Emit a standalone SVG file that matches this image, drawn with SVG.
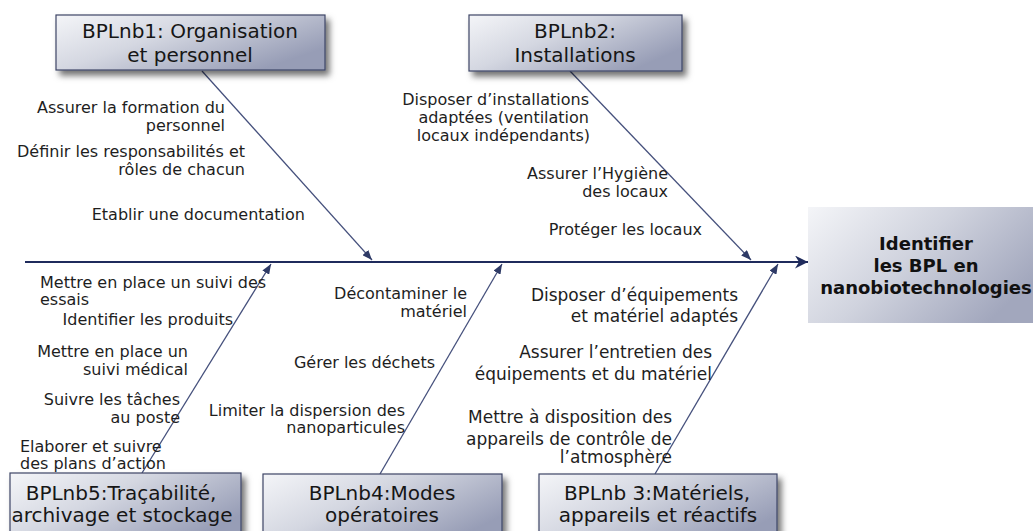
<svg xmlns="http://www.w3.org/2000/svg" width="1033" height="531" viewBox="0 0 1033 531">
<style>
.lbl{font-family:"DejaVu Sans",Verdana,sans-serif;font-size:16px;fill:#1e1e1e}
.big{font-size:17px}
.end{text-anchor:end}
.ttl{font-family:"DejaVu Sans",Verdana,sans-serif;font-size:20px;fill:#161616;text-anchor:middle}
.eff{font-family:"DejaVu Sans",Verdana,sans-serif;font-size:18px;font-weight:bold;fill:#111;text-anchor:middle}
.box{fill:url(#gb);stroke:#3e4566;stroke-width:1.2;filter:url(#sh)}
.bone{stroke:#45507c;stroke-width:1.3;fill:none;marker-end:url(#ah)}
.spine{stroke:#1f2b5c;stroke-width:2;fill:none;marker-end:url(#sp)}
</style>
<defs>
<linearGradient id="gb" x1="0" y1="0" x2="1" y2="0.6">
<stop offset="0" stop-color="#f4f5f8"/>
<stop offset="0.45" stop-color="#d4d7e1"/>
<stop offset="1" stop-color="#979db6"/>
</linearGradient>
<linearGradient id="ge" x1="0" y1="0" x2="1" y2="0.5">
<stop offset="0" stop-color="#f4f5f8"/>
<stop offset="0.5" stop-color="#d0d3de"/>
<stop offset="1" stop-color="#a2a7bd"/>
</linearGradient>
<filter id="sh" x="-10%" y="-20%" width="125%" height="150%">
<feDropShadow dx="4" dy="5" stdDeviation="3" flood-color="#000" flood-opacity="0.55"/>
</filter>
<marker id="ah" markerUnits="userSpaceOnUse" markerWidth="10" markerHeight="8" refX="10" refY="4" orient="auto">
<path d="M0,0 L10,4 L0,8 z" fill="#2e3a66"/>
</marker>
<marker id="sp" markerUnits="userSpaceOnUse" markerWidth="14" markerHeight="13" refX="13" refY="6.5" orient="auto">
<path d="M0,0 L13,6.5 L0,13 L4,6.5 z" fill="#1f2b5c"/>
</marker>
</defs>

<g id="connectors">
<line class="spine" x1="25" y1="262" x2="808" y2="262"/>
<line class="bone" x1="202" y1="71" x2="372" y2="260"/>
<line class="bone" x1="570" y1="71" x2="751" y2="260"/>
<line class="bone" x1="142" y1="473" x2="271" y2="264"/>
<line class="bone" x1="380" y1="474" x2="502" y2="264"/>
<line class="bone" x1="655" y1="474" x2="778" y2="264"/>
</g>

<g id="effect">
<rect x="808" y="207" width="240" height="116" fill="url(#ge)"/>
<text class="eff" x="926" y="250">Identifier</text>
<text class="eff" x="926" y="272">les BPL en</text>
<text class="eff" x="926" y="294">nanobiotechnologies</text>
</g>

<g id="cat1">
<rect class="box" x="56" y="15" width="269" height="55"/>
<text class="ttl" x="190" y="38">BPLnb1: Organisation</text>
<text class="ttl" x="190" y="62">et personnel</text>
</g>
<g id="cat2">
<rect class="box" x="469" y="15" width="213" height="56"/>
<text class="ttl" x="575" y="38">BPLnb2:</text>
<text class="ttl" x="575" y="62">Installations</text>
</g>
<g id="cat5">
<rect class="box" x="10" y="473" width="231" height="70"/>
<text class="ttl" x="121" y="500">BPLnb5:Traçabilité,</text>
<text class="ttl" x="122" y="522">archivage et stockage</text>
</g>
<g id="cat4">
<rect class="box" x="263" y="474" width="239" height="70"/>
<text class="ttl" x="382" y="500">BPLnb4:Modes</text>
<text class="ttl" x="382" y="522">opératoires</text>
</g>
<g id="cat3">
<rect class="box" x="539" y="474" width="238" height="70"/>
<text class="ttl" x="657" y="500">BPLnb 3:Matériels,</text>
<text class="ttl" x="658" y="522">appareils et réactifs</text>
</g>

<g id="causes1">
<text class="lbl end" x="225" y="113">Assurer la formation du</text>
<text class="lbl end" x="225" y="131">personnel</text>
<text class="lbl end" x="245" y="157">Définir les responsabilités et</text>
<text class="lbl end" x="245" y="175">rôles de chacun</text>
<text class="lbl end" x="305" y="220">Etablir une documentation</text>
</g>
<g id="causes2">
<text class="lbl end" x="589" y="105">Disposer d’installations</text>
<text class="lbl end" x="589" y="123">adaptées (ventilation</text>
<text class="lbl end" x="590" y="141">locaux indépendants)</text>
<text class="lbl end" x="668" y="179">Assurer l’Hygiène</text>
<text class="lbl end" x="668" y="197">des locaux</text>
<text class="lbl end" x="702" y="235">Protéger les locaux</text>
</g>
<g id="causes5">
<text class="lbl" x="40" y="288">Mettre en place un suivi des</text>
<text class="lbl" x="40" y="305">essais</text>
<text class="lbl end" x="233" y="325">Identifier les produits</text>
<text class="lbl end" x="188" y="357">Mettre en place un</text>
<text class="lbl end" x="188" y="375">suivi médical</text>
<text class="lbl end" x="180" y="405">Suivre les tâches</text>
<text class="lbl end" x="180" y="423">au poste</text>
<text class="lbl" x="20" y="452">Elaborer et suivre</text>
<text class="lbl" x="20" y="469">des plans d’action</text>
</g>
<g id="causes4">
<text class="lbl end" x="467" y="299">Décontaminer le</text>
<text class="lbl end" x="467" y="317">matériel</text>
<text class="lbl end" x="435" y="368">Gérer les déchets</text>
<text class="lbl end" x="405" y="416">Limiter la dispersion des</text>
<text class="lbl end" x="405" y="433">nanoparticules</text>
</g>
<g id="causes3">
<text class="lbl big end" x="738" y="301">Disposer d’équipements</text>
<text class="lbl big end" x="738" y="322">et matériel adaptés</text>
<text class="lbl big end" x="712" y="358">Assurer l’entretien des</text>
<text class="lbl big end" x="712" y="380">équipements et du matériel</text>
<text class="lbl big end" x="672" y="423">Mettre à disposition des</text>
<text class="lbl big end" x="672" y="445">appareils de contrôle de</text>
<text class="lbl big end" x="672" y="463">l’atmosphère</text>
</g>
</svg>
